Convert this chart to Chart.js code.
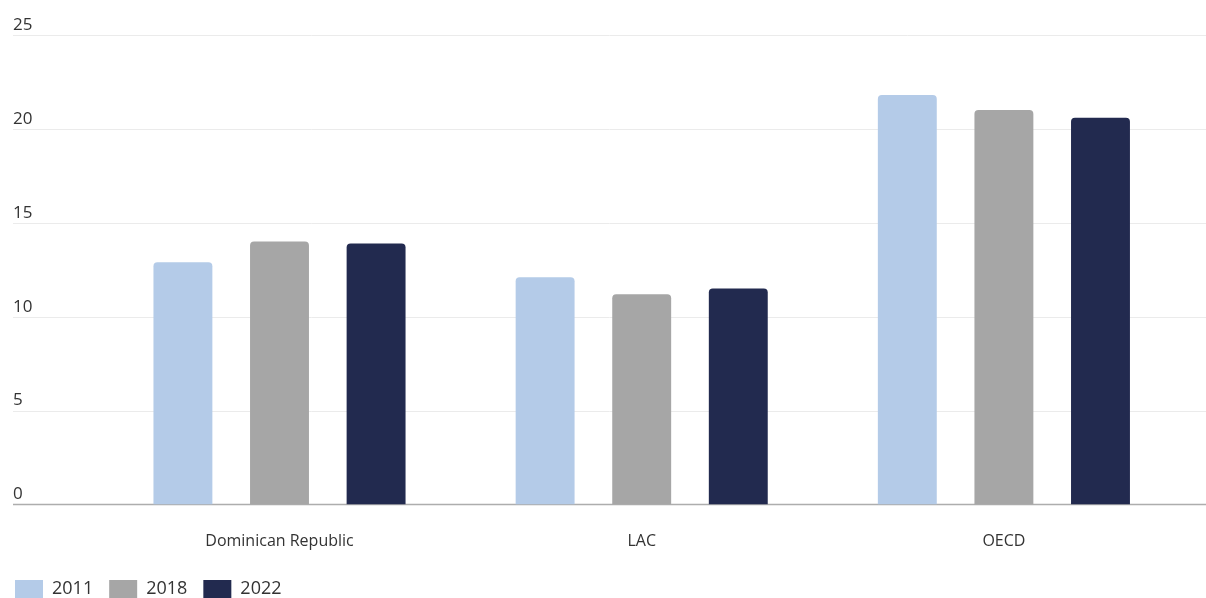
<!DOCTYPE html>
<html>
<head>
<meta charset="utf-8">
<script src="https://cdn.jsdelivr.net/npm/chart.js@4/dist/chart.umd.min.js"></script>
<style>
  html, body { margin: 0; padding: 0; background: #fff; overflow: hidden; }
  #wrap { position: relative; width: 1206px; height: 608px; }
</style>
</head>
<body>
<div id="wrap"><canvas id="chart"></canvas></div>
<script>
const categories = ["Dominican Republic", "LAC", "OECD"];
const years = ["2011", "2018", "2022"];
const values2011 = [12.9, 12.1, 21.8];
const values2018 = [14.0, 11.2, 21.0];
const values2022 = [13.9, 11.5, 20.6];
const yTicks = [0, 5, 10, 15, 20, 25];

const colors = ["#b4cbe8", "#a6a6a6", "#222a4f"];
const textColor = "#333333";
const font = "'Open Sans', 'Noto Sans', sans-serif";

// grid lines run the full width, past the plot on both sides
const fullGrid = {
  id: "fullGrid",
  beforeDatasetsDraw(chart){
    const y = chart.scales.y;
    const ctx = chart.ctx;
    const left = y.left, right = chart.width;
    ctx.save();
    y.ticks.forEach((t)=>{
      const py = Math.round(y.getPixelForValue(t.value)) + 0.5;
      if(t.value === 0){ return; }
      ctx.strokeStyle = "#ebebeb";
      ctx.lineWidth = 1;
      ctx.beginPath(); ctx.moveTo(left, py); ctx.lineTo(right, py); ctx.stroke();
    });
    const base = y.getPixelForValue(0);
    ctx.strokeStyle = "#adadad";
    ctx.lineWidth = 1.5;
    ctx.beginPath(); ctx.moveTo(left, base); ctx.lineTo(right, base); ctx.stroke();
    ctx.restore();
  }
};

// legend sits flush with the y labels, not indented by its item padding
const legendShift = {
  id: "legendShift",
  afterLayout(chart){
    if(chart.legend){ chart.legend.left -= 14; chart.legend.right -= 14; }
  }
};

const seriesValues = [values2011, values2018, values2022];

new Chart(document.getElementById("chart"), {
  type: "bar",
  data: {
    labels: categories,
    datasets: years.map((yr, i)=>({
      label: yr,
      data: seriesValues[i],
      backgroundColor: colors[i],
      borderRadius: 4,
      borderSkipped: "start",
      barPercentage: 0.61,
      categoryPercentage: 0.8
    }))
  },
  options: {
    responsive: true,
    maintainAspectRatio: false,
    animation: false,
    layout: { padding: { top: 35, left: 13, right: 21, bottom: 0 } },
    scales: {
      x: {
        grid: { display: false },
        border: { display: false },
        ticks: { color: textColor, font: { family: font, size: 16 }, padding: 19 },
        afterFit(scale){ scale.height = 59.5; }
      },
      y: {
        min: 0,
        max: 25,
        afterBuildTicks(scale){ scale.ticks = yTicks.map((v)=>({ value: v })); },
        grid: { display: false },
        border: { display: false },
        ticks: {
          color: textColor,
          font: { family: font, size: 17 },
          crossAlign: "far",
          labelOffset: -10
        },
        afterFit(scale){ scale.width = 85.4; }
      }
    },
    plugins: {
      tooltip: { enabled: false },
      legend: {
        position: "bottom",
        align: "start",
        labels: {
          color: textColor,
          font: { family: font, size: 18 },
          boxWidth: 28,
          boxHeight: 18,
          padding: 16
        }
      }
    }
  },
  plugins: [fullGrid, legendShift]
});
</script>
</body>
</html>
